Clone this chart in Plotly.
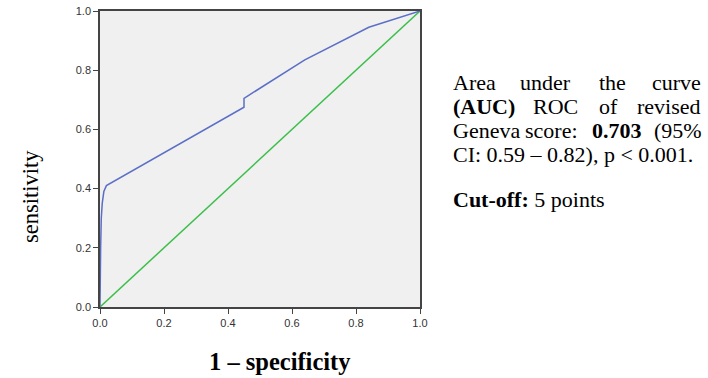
import plotly.graph_objects as go

# ROC curve data (1 - specificity, sensitivity)
fpr = [0.0, 0.0, 0.002, 0.004, 0.007, 0.012, 0.02, 0.45, 0.45, 0.64, 0.84, 1.0]
tpr = [0.0, 0.10, 0.20, 0.30, 0.35, 0.39, 0.41, 0.675, 0.705, 0.835, 0.945, 1.0]
ref_x = [0.0, 1.0]
ref_y = [0.0, 1.0]
tick_vals = [0.0, 0.2, 0.4, 0.6, 0.8, 1.0]
tick_text = ["0.0", "0.2", "0.4", "0.6", "0.8", "1.0"]

W, H = 708, 378
L, R, T, B = 100, 420, 11, 307

fig = go.Figure()
fig.add_trace(go.Scatter(x=ref_x, y=ref_y, mode="lines",
                         line=dict(color="#3cbf4a", width=1.5), hoverinfo="skip"))
fig.add_trace(go.Scatter(x=fpr, y=tpr, mode="lines",
                         line=dict(color="#5b6fc6", width=1.5), hoverinfo="skip"))

axis_common = dict(range=[0, 1], tickvals=tick_vals, ticktext=tick_text,
                   ticks="outside", ticklen=5, tickwidth=1, tickcolor="#444",
                   showline=True, linecolor="#444", linewidth=1.5, mirror=True,
                   showgrid=False, zeroline=False, automargin=False,
                   tickfont=dict(family="Liberation Sans, Arial", size=11, color="#333"))

fig.update_layout(
    width=W, height=H,
    margin=dict(l=L, r=W - R, t=T, b=H - B, autoexpand=False),
    paper_bgcolor="white", plot_bgcolor="#f0f0f0",
    showlegend=False,
    xaxis=dict(**axis_common),
    yaxis=dict(**axis_common),
)

def px(p):
    return (p - L) / (R - L)

def py(p):
    return (B - p) / (B - T)

serif = "Liberation Serif, Times New Roman, serif"
FS = 22

def word(text, x, y, anchor="left", bold=False):
    t = f"<b>{text}</b>" if bold else text
    fig.add_annotation(x=px(x), y=py(y), xref="paper", yref="paper", text=t,
                       showarrow=False, xanchor=anchor, yanchor="middle",
                       font=dict(family=serif, size=FS, color="black"))

# justified paragraph, word by word (middle words centred on their reference position)
word("Area", 451, 82)
word("under", 545, 82, "center")
word("the", 612, 82, "center")
word("curve", 703, 82, "right")
word("(AUC)", 451, 106, bold=True)
word("ROC", 555, 106, "center")
word("of", 608, 106, "center")
word("revised", 703, 106, "right")
word("Geneva", 451, 130)
word("score:", 551, 130, "center")
word("0.703", 617, 130, "center", bold=True)
word("(95%", 704, 130, "right")
word("CI: 0.59 – 0.82), p &lt; 0.001.", 451, 154)
fig.add_annotation(x=px(451), y=py(199), xref="paper", yref="paper",
                   text="<b>Cut-off:</b> 5 points", showarrow=False,
                   xanchor="left", yanchor="middle",
                   font=dict(family=serif, size=FS, color="black"))

# axis titles
fig.add_annotation(x=px(30), y=py(197), xref="paper", yref="paper",
                   text="sensitivity", textangle=-90, showarrow=False,
                   xanchor="center", yanchor="middle",
                   font=dict(family=serif, size=22.5, color="black"))
fig.add_annotation(x=px(280), y=py(361), xref="paper", yref="paper",
                   text="<b>1 – specificity</b>", showarrow=False,
                   xanchor="center", yanchor="middle",
                   font=dict(family=serif, size=24.5, color="black"))

fig.write_html("out.html")
